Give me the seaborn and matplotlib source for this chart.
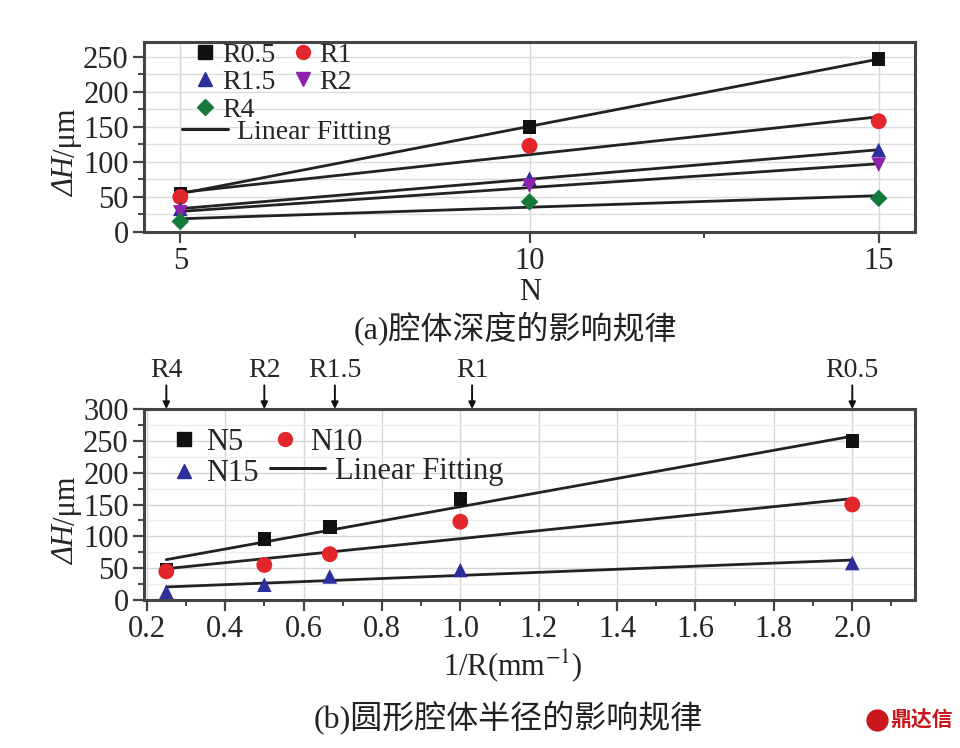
import numpy as np
import pandas as pd
import matplotlib
matplotlib.use("Agg")
import matplotlib.pyplot as plt
import seaborn as sns
from matplotlib.lines import Line2D
from matplotlib.ticker import MultipleLocator, FixedLocator, FormatStrFormatter

# ---------------- data: (a) effect of cavity depth ----------------
n_values = [5, 10, 15]
r_series = ["R0.5", "R1", "R1.5", "R2", "R4"]
dh_r05 = [55, 150, 247]
dh_r1 = [50, 123, 158]
dh_r15 = [33, 76, 117]
dh_r2 = [28, 66, 96]
dh_r4 = [15, 43, 48]

# ---------------- data: (b) effect of round cavity radius ----------------
inv_r = [0.25, 0.5, 0.667, 1.0, 2.0]
n_series = ["N5", "N10", "N15"]
dh_n5 = [48, 96, 115, 159, 250]
dh_n10 = [45, 55, 72, 123, 150]
dh_n15 = [13, 24, 37, 47, 58]

top_labels = ["R4", "R2", "R1.5", "R1", "R0.5"]
top_label_pos = [0.25, 0.5, 0.68, 1.03, 2.0]

# ---------------- styling ----------------
sns.set_style("white")
plt.rcParams["font.family"] = ["Liberation Serif", "Noto Sans CJK SC", "DejaVu Sans"]
plt.rcParams["mathtext.fontset"] = "stix"

W, H = 960, 748
fig = plt.figure(figsize=(W / 100, H / 100), dpi=100)
fig.patch.set_facecolor("white")


def fx(px):
    return px / W


def fy(py):
    return 1 - py / H


colors_r = {"R0.5": "#111111", "R1": "#e2262b", "R1.5": "#2c2f9c", "R2": "#8e22ad", "R4": "#177a3d"}
markers_r = {"R0.5": "s", "R1": "o", "R1.5": "^", "R2": "v", "R4": "D"}
sizes_r = {"R0.5": 95, "R1": 130, "R1.5": 110, "R2": 110, "R4": 80}
colors_n = {"N5": "#111111", "N10": "#e2262b", "N15": "#2c2f9c"}
markers_n = {"N5": "s", "N10": "o", "N15": "^"}
sizes_n = {"N5": 95, "N10": 130, "N15": 110}

FS = 22
LFS = 20
SPINE = "#444444"
LINEC = "#222222"


def style_axes(ax):
    for s in ax.spines.values():
        s.set_color(SPINE)
        s.set_linewidth(2.2)
        s.set_visible(True)
    ax.tick_params(which="major", direction="out", length=8, width=1.6, color=SPINE,
                   labelsize=FS, pad=3, top=False, right=False, left=True, bottom=True)
    ax.tick_params(which="minor", direction="out", length=4, width=1.4, color=SPINE,
                   top=False, right=False, left=True, bottom=True)
    ax.set_xlabel("")
    ax.set_ylabel("")
    ax.set_axisbelow(True)


def ylabel(ycenter):
    fig.text(fx(67), fy(ycenter), "ΔH", rotation=90, ha="center", va="top",
             fontsize=FS, fontstyle="italic")
    fig.text(fx(67), fy(ycenter), "/μm", rotation=90, ha="center", va="bottom", fontsize=FS)


def axx(ax, px):
    x0 = 144
    return (px - x0) / (915 - x0)


# ======================= (a) =======================
ax1 = fig.add_axes([fx(144), fy(232), fx(915) - fx(144), fy(42) - fy(232)])
df_a = pd.DataFrame({
    "N": n_values * len(r_series),
    "dH": dh_r05 + dh_r1 + dh_r15 + dh_r2 + dh_r4,
    "R": np.repeat(r_series, len(n_values)),
})
for name, vals in zip(r_series, [dh_r05, dh_r1, dh_r15, dh_r2, dh_r4]):
    sns.regplot(x=n_values, y=vals, scatter=False, ci=None, truncate=True,
                color=LINEC, line_kws={"lw": 2.0, "zorder": 2}, ax=ax1)
for name in r_series:
    sub = df_a[df_a["R"] == name]
    sns.scatterplot(data=sub, x="N", y="dH", color=colors_r[name], marker=markers_r[name],
                    s=sizes_r[name], edgecolor="none", legend=False, zorder=3, ax=ax1)
ax1.set_xlim(4.48, 15.52)
ax1.set_ylim(0, 271)
ax1.xaxis.set_major_locator(FixedLocator([5, 10, 15]))
ax1.xaxis.set_minor_locator(FixedLocator([7.5, 12.5]))
ax1.yaxis.set_major_locator(MultipleLocator(50))
ax1.yaxis.set_minor_locator(MultipleLocator(25))
ax1.grid(which="major", axis="x", color="#d6d6d6", lw=1.0)
ax1.grid(which="both", axis="y", color="#dcdcdc", lw=1.0)
style_axes(ax1)

h_a = [Line2D([], [], ls="none", marker=markers_r[n], color=colors_r[n], ms=10 if n != "R4" else 8.5)
       for n in r_series]
blank = Line2D([], [], ls="none")
leg1 = ax1.legend([h_a[0], h_a[2], h_a[4], h_a[1], h_a[3], blank],
                  ["R0.5", "R1.5", "R4", "R1", "R2", ""], ncol=2, fontsize=LFS,
                  loc="upper left", bbox_to_anchor=(axx(ax1, 194), 0.998), frameon=False,
                  labelspacing=0.07, handlelength=0.8, handletextpad=0.2,
                  columnspacing=0.6, borderpad=0.0, borderaxespad=0.0)
ax1.add_artist(leg1)
ax1.legend([Line2D([], [], color=LINEC, lw=2.2)], ["Linear Fitting"], fontsize=LFS,
           loc="upper left", bbox_to_anchor=(axx(ax1, 182), 0.592), frameon=False,
           handlelength=1.65, handletextpad=0.32, borderpad=0.0, borderaxespad=0.0)

ylabel(157)
fig.text(fx(530), fy(293), "N", ha="center", va="center", fontsize=FS)
fig.text(fx(515), fy(329), "(a)腔体深度的影响规律", ha="center", va="center", fontsize=23,
         color="#222222", fontweight="light")

# ======================= (b) =======================
ax2 = fig.add_axes([fx(144), fy(600), fx(915) - fx(144), fy(409) - fy(600)])
df_b = pd.DataFrame({
    "invR": inv_r * len(n_series),
    "dH": dh_n5 + dh_n10 + dh_n15,
    "N": np.repeat(n_series, len(inv_r)),
})
for name, vals in zip(n_series, [dh_n5, dh_n10, dh_n15]):
    sns.regplot(x=inv_r, y=vals, scatter=False, ci=None, truncate=True,
                color=LINEC, line_kws={"lw": 2.0, "zorder": 2}, ax=ax2)
for name in n_series:
    sub = df_b[df_b["N"] == name]
    sns.scatterplot(data=sub, x="invR", y="dH", color=colors_n[name], marker=markers_n[name],
                    s=sizes_n[name], edgecolor="none", legend=False, zorder=3, ax=ax2)
ax2.set_xlim(0.193, 2.16)
ax2.set_ylim(0, 300)
ax2.xaxis.set_major_locator(MultipleLocator(0.2))
ax2.xaxis.set_minor_locator(MultipleLocator(0.1))
ax2.yaxis.set_major_locator(MultipleLocator(50))
ax2.yaxis.set_minor_locator(MultipleLocator(25))
ax2.xaxis.set_major_formatter(FormatStrFormatter("%.1f"))
ax2.grid(which="major", axis="x", color="#d6d6d6", lw=1.0)
ax2.grid(which="major", axis="y", color="#d6d6d6", lw=1.0)
ax2.grid(which="minor", axis="y", color="#ececec", lw=0.9)
style_axes(ax2)

h_b = {n: Line2D([], [], ls="none", marker=markers_n[n], color=colors_n[n], ms=10) for n in n_series}
lb1 = ax2.legend([h_b["N5"], h_b["N15"]], ["N5", "N15"], fontsize=FS,
                 loc="upper left", bbox_to_anchor=(axx(ax2, 166), 0.901), frameon=False,
                 labelspacing=0.075, handlelength=1.2, handletextpad=0.1,
                 borderpad=0.0, borderaxespad=0.0)
ax2.add_artist(lb1)
lb2 = ax2.legend([h_b["N10"]], ["N10"], fontsize=FS,
                 loc="upper left", bbox_to_anchor=(axx(ax2, 267), 0.901), frameon=False,
                 handlelength=1.2, handletextpad=0.22, borderpad=0.0, borderaxespad=0.0)
ax2.add_artist(lb2)
ax2.legend([Line2D([], [], color=LINEC, lw=2.2)], ["Linear Fitting"], fontsize=FS,
           loc="upper left", bbox_to_anchor=(axx(ax2, 270), 0.751), frameon=False,
           handlelength=1.8, handletextpad=0.33, borderpad=0.0, borderaxespad=0.0)

trans = ax2.get_xaxis_transform()
for lab, pos in zip(top_labels, top_label_pos):
    ax2.annotate("", xy=(pos, 1.0), xycoords=trans, xytext=(0, 17), textcoords="offset points",
                 arrowprops=dict(arrowstyle="-|>", color="#111111", lw=1.4, mutation_scale=10,
                                 shrinkA=0, shrinkB=0), annotation_clip=False)
    ax2.annotate(lab, xy=(pos, 1.0), xycoords=trans, xytext=(0, 28), textcoords="offset points",
                 ha="center", va="center", fontsize=20, annotation_clip=False)

ylabel(525)
fig.text(fx(513), fy(666), r"1/R(mm$^{-1}$)", ha="center", va="center", fontsize=FS)
fig.text(fx(508), fy(718), "(b)圆形腔体半径的影响规律", ha="center", va="center", fontsize=23,
         color="#222222", fontweight="light")

# watermark
fig.add_artist(Line2D([fx(877)], [fy(720)], marker="o", ms=15, color="#c8161d",
                      transform=fig.transFigure))
fig.text(fx(890), fy(720), "鼎达信", ha="left", va="center", fontsize=15, color="#c8161d",
         fontweight="bold", family=["Noto Sans CJK SC", "DejaVu Sans"])

fig.savefig("out.png", dpi=100, facecolor="white")
